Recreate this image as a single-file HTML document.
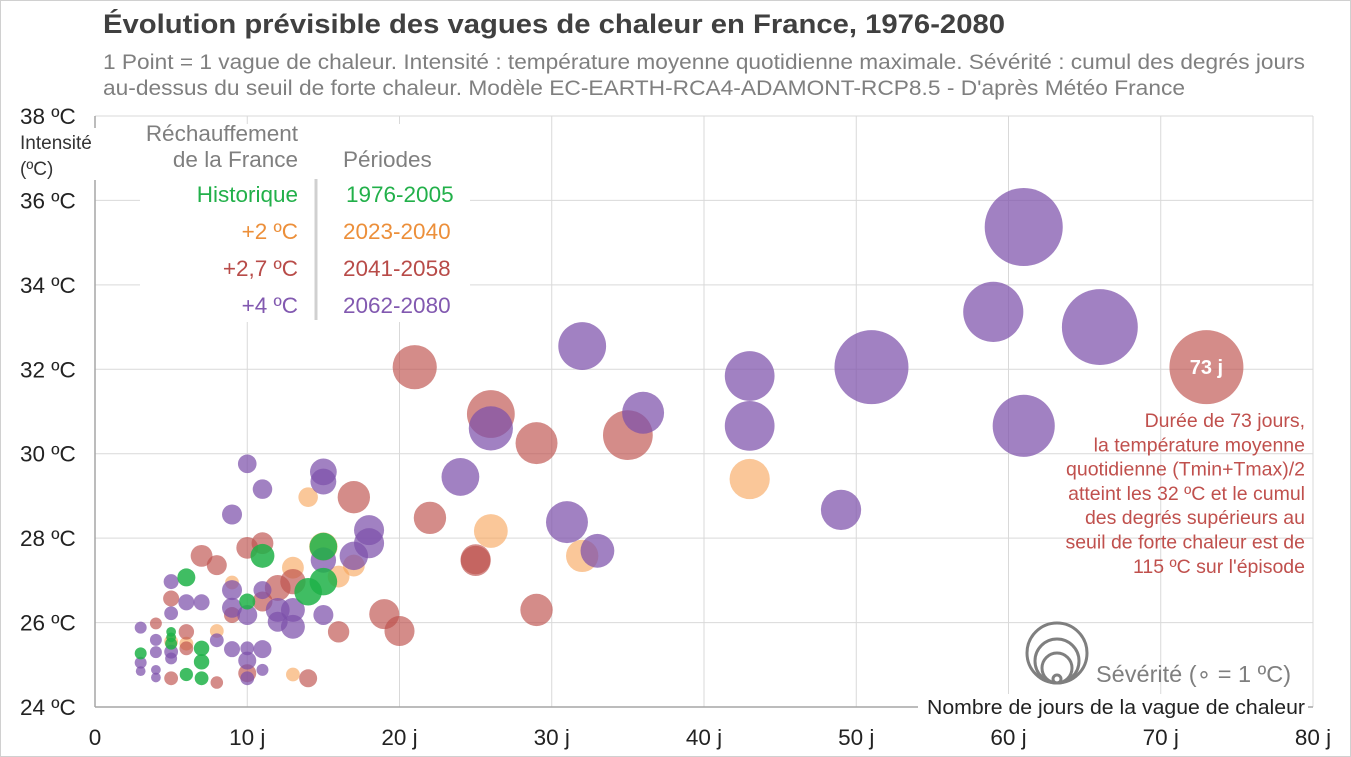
<!DOCTYPE html>
<html><head><meta charset="utf-8"><style>
body{margin:0;background:#fff;font-family:"Liberation Sans",Arial,sans-serif}
svg{display:block}
</style></head><body>
<svg id="chart" width="1351" height="757" viewBox="0 0 1351 757" font-family="Liberation Sans, Arial, sans-serif">
<rect x="0.5" y="0.5" width="1350" height="756" fill="#fff" stroke="#d0d0d0"/>
<text x="103" y="33" font-size="27" font-weight="bold" fill="#404040" textLength="902" lengthAdjust="spacingAndGlyphs">Évolution prévisible des vagues de chaleur en France, 1976-2080</text>
<text x="103" y="69" font-size="21" fill="#7f7f7f" textLength="1202" lengthAdjust="spacingAndGlyphs">1 Point = 1 vague de chaleur. Intensité : température moyenne quotidienne maximale. Sévérité : cumul des degrés jours</text>
<text x="103" y="95" font-size="21" fill="#7f7f7f" textLength="1082" lengthAdjust="spacingAndGlyphs">au-dessus du seuil de forte chaleur. Modèle EC-EARTH-RCA4-ADAMONT-RCP8.5 - D'après Météo France</text>
<g id="grid"></g>
<g id="axes"></g>
<g id="marks"></g>
<g id="overlay"></g>
</svg>
<script>
const xTicks=[0,10,20,30,40,50,60,70,80];
const xTickLabels=["0","10 j","20 j","30 j","40 j","50 j","60 j","70 j","80 j"];
const yTicks=[24,26,28,30,32,34,36,38];
const yTickLabels=["24 ºC","26 ºC","28 ºC","30 ºC","32 ºC","34 ºC","36 ºC","38 ºC"];

const histDays=[6,11,15,15,14,10,5,7,7,6,7,3,5,5];
const histTemp=[27.07,27.58,27.8,26.97,26.73,26.5,25.78,25.39,25.07,24.77,24.68,25.27,25.5,25.65];
const histSev=[6.8,12,16,16,16,5.4,2,5,5,3.7,4,3,3,2];

const p2Days=[43,26,32,14,15,17,16,13,9,8,6,13,5];
const p2Temp=[29.4,28.17,27.58,28.97,27.8,27.35,27.09,27.3,26.95,25.8,25.5,24.77,25.55];
const p2Sev=[34,24,22,8,17,10,10,10,4,4,4,4,4];

const p27Days=[73,21,26,29,35,17,22,25,29,19,20,7,8,10,11,13,12,16,11,9,5,4,6,6,10,14,8,5,25];
const p27Temp=[32.05,32.05,30.94,30.25,30.44,28.97,28.48,27.46,26.3,26.2,25.8,27.58,27.36,27.77,27.88,26.97,26.82,25.78,26.5,26.18,26.57,25.98,25.78,25.39,24.8,24.68,24.58,24.68,27.5];
const p27Sev=[115,41,48,37,52,22,22,19,22,19,19,10,8.4,10,10,13.5,14,9.6,8.4,5.4,5.4,3,5,4,6.8,6.8,3.3,4,19];

const p4Days=[61,59,66,51,61,43,43,32,36,26,24,31,33,49,10,11,9,15,15,18,18,17,15,13,12,12,13,15,11,10,9,9,7,6,5,5,3,8,9,10,10,11,10,11,5,5,4,4,4,4,3,3];
const p4Temp=[35.37,33.36,33.0,32.05,30.66,31.84,30.66,32.55,30.97,30.6,29.45,28.38,27.7,28.67,29.76,29.16,28.56,29.57,29.34,28.19,27.88,27.58,27.48,26.3,26.3,26.02,25.9,26.18,26.77,26.18,26.77,26.35,26.48,26.48,26.97,26.22,25.88,25.58,25.37,25.39,25.1,25.37,24.68,24.88,25.31,25.15,25.59,25.3,24.88,24.7,25.05,24.85];
const p4Sev=[128,76,121,115,81,52,52,48,37,41,30,37,24,34,7.3,8,8.4,15,14,19,19,17,13.5,12,12,8.4,12,8.4,6.8,8.4,8.4,8.4,5.4,5.4,4.7,4,3,4,5.4,4,6.8,6.8,4,3,4,3,3,3,2,2,3,2];

const X0=95,X1=1313,Y0=707,Y1=116;
const xs=v=>X0+(v-0)/(80-0)*(X1-X0);
const ys=v=>Y0-(v-24)/(38-24)*(Y0-Y1);
const rs=s=>3.45*Math.sqrt(s);
const NS="http://www.w3.org/2000/svg";
function mk(tag,attrs,parent,txt){const e=document.createElementNS(NS,tag);for(const k in attrs)e.setAttribute(k,attrs[k]);if(txt!==undefined)e.textContent=txt;parent.appendChild(e);return e;}
const grid=document.getElementById('grid'),axes=document.getElementById('axes'),marks=document.getElementById('marks'),ov=document.getElementById('overlay');

xTicks.forEach((t,i)=>{
  if(i>0){const l=mk('line',{x1:xs(t),x2:xs(t),y1:Y1,y2:Y0,stroke:'#d9d9d9','stroke-width':1},grid);
  
  }
  const tx=mk('text',{x:xs(t),y:745,'font-size':22.5,fill:'#222','text-anchor':'middle'},axes,xTickLabels[i]);
  
  
});
yTicks.forEach((t,i)=>{
  if(i>0){const l=mk('line',{x1:X0,x2:X1,y1:ys(t),y2:ys(t),stroke:'#d9d9d9','stroke-width':1},grid);
  
  }
  const tx=mk('text',{x:20,y:ys(t)+8,'font-size':22.5,fill:'#222'},axes,yTickLabels[i]);
  
  
});
let a=mk('line',{x1:X0,x2:X0,y1:Y1,y2:Y0,stroke:'#a6a6a6','stroke-width':1.5},axes);


a=mk('line',{x1:X0,x2:X1,y1:Y0,y2:Y0,stroke:'#a6a6a6','stroke-width':1.5},axes);



function series(d,t,s,fill,name){
  d.forEach((v,i)=>{
    const c=mk('circle',{cx:xs(v),cy:ys(t[i]),r:rs(s[i]),fill:fill},marks);
    
    
  });
}
series(p2Days,p2Temp,p2Sev,'rgba(247,165,90,0.62)','bubble-plus2');
series(p27Days,p27Temp,p27Sev,'rgba(190,80,76,0.66)','bubble-plus27');
series(p4Days,p4Temp,p4Sev,'rgba(125,80,170,0.72)','bubble-plus4');
series(histDays,histTemp,histSev,'rgba(30,178,72,0.85)','bubble-historique');

let b=mk('rect',{x:140,y:124,width:330,height:198,fill:'#fff'},ov);


b=mk('rect',{x:14,y:128,width:86,height:52,fill:'#fff'},ov);


const yt=[['Intensité',149],['(ºC)',175]];
yt.forEach(p=>{const e=mk('text',{x:20,y:p[1],'font-size':19,fill:'#333'},ov,p[0]);

});
const legRows=[['Réchauffement','',141,'#7f7f7f'],['de la France','Périodes',167,'#7f7f7f'],['Historique','1976-2005',202,'#22b04a'],['+2 ºC','2023-2040',239,'#ec8f3a'],['+2,7 ºC','2041-2058',276,'#b84b48'],['+4 ºC','2062-2080',313,'#8259b0']];
legRows.forEach(r=>{
  let e=mk('text',{x:298,y:r[2],'font-size':22.5,fill:r[3],'text-anchor':'end'},ov,r[0]);
  
  
  if(r[1]){e=mk('text',{x:r[1]==='1976-2005'?346:343,y:r[2],'font-size':22.5,fill:r[3]},ov,r[1]);
  
  }
});
b=mk('line',{x1:316,x2:316,y1:179,y2:320,stroke:'#d0d0d0','stroke-width':3},ov);



b=mk('text',{x:xs(73),y:ys(32.05)+7,'font-size':20,'font-weight':'bold',fill:'#fff','text-anchor':'middle'},ov,'73 j');


const ann=['Durée de 73 jours,','la température moyenne','quotidienne  (Tmin+Tmax)/2','atteint les 32 ºC et le cumul','des degrés supérieurs au','seuil de forte chaleur est de',"115 ºC sur l'épisode"];
ann.forEach((t,i)=>{const e=mk('text',{x:1305,y:427+i*24.3,'font-size':19.5,fill:'#c0504d','text-anchor':'end'},ov,t);

});

[30,22,15,4].forEach(r=>{const c=mk('circle',{cx:1057,cy:683-r,r:r,fill:'none',stroke:'#7f7f7f','stroke-width':3},ov);

});
b=mk('text',{x:1096,y:682,'font-size':23.5,fill:'#7f7f7f'},ov,'Sévérité (∘ = 1 ºC)');


b=mk('rect',{x:918,y:694,width:390,height:25,fill:'#fff'},ov);


b=mk('text',{x:1305,y:714,'font-size':20,fill:'#222','text-anchor':'end',textLength:378,lengthAdjust:'spacingAndGlyphs'},ov,'Nombre  de jours de la vague de chaleur');


</script>
</body></html>
